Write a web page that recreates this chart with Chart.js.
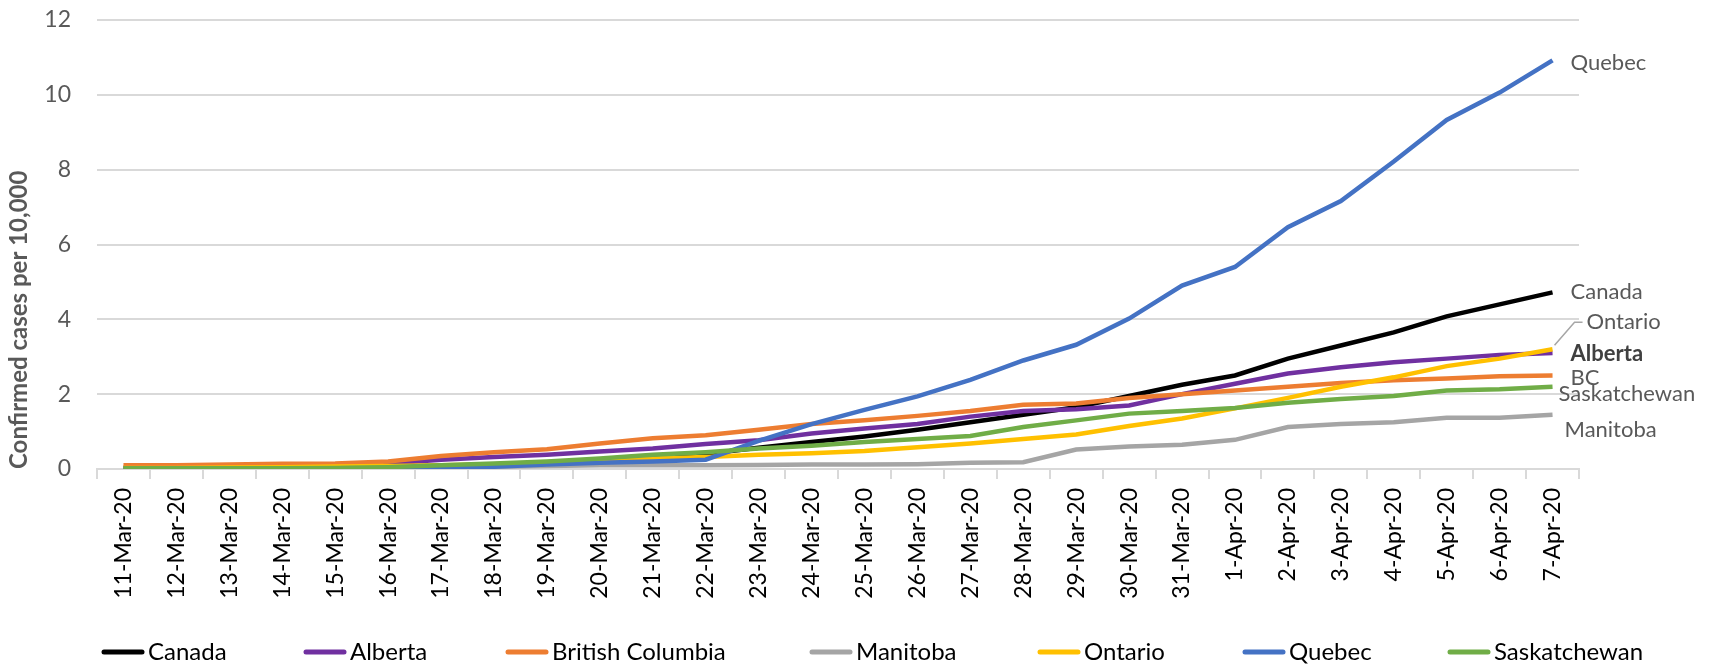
<!DOCTYPE html>
<html>
<head>
<meta charset="utf-8">
<script src="https://cdn.jsdelivr.net/npm/chart.js@4"></script>
<style>
  html, body { margin: 0; padding: 0; background: #fff; }
  #wrap { width: 1723px; height: 664px; }
</style>
</head>
<body>
<div id="wrap"><canvas id="casesChart" width="1723" height="664"></canvas></div>
<script>
const dates = ['11-Mar-20','12-Mar-20','13-Mar-20','14-Mar-20','15-Mar-20','16-Mar-20','17-Mar-20',
  '18-Mar-20','19-Mar-20','20-Mar-20','21-Mar-20','22-Mar-20','23-Mar-20','24-Mar-20','25-Mar-20',
  '26-Mar-20','27-Mar-20','28-Mar-20','29-Mar-20','30-Mar-20','31-Mar-20','1-Apr-20','2-Apr-20',
  '3-Apr-20','4-Apr-20','5-Apr-20','6-Apr-20','7-Apr-20'];

const canada = [0.03,0.03,0.04,0.05,0.06,0.07,0.09,0.12,0.16,0.2,0.3,0.4,0.57,0.72,0.87,1.05,1.25,1.45,1.65,1.95,2.25,2.5,2.95,3.3,3.65,4.08,4.4,4.72];
const alberta = [0.03,0.04,0.06,0.08,0.1,0.15,0.25,0.32,0.38,0.47,0.55,0.67,0.77,0.95,1.08,1.2,1.4,1.55,1.6,1.7,2.0,2.28,2.55,2.72,2.85,2.95,3.05,3.1];
const britishColumbia = [0.1,0.1,0.12,0.14,0.15,0.2,0.35,0.45,0.53,0.68,0.82,0.9,1.05,1.2,1.3,1.42,1.55,1.72,1.75,1.9,2.0,2.1,2.2,2.3,2.37,2.42,2.48,2.5];
const manitoba = [0,0,0,0,0,0.02,0.04,0.06,0.08,0.1,0.1,0.1,0.11,0.12,0.12,0.13,0.17,0.18,0.52,0.6,0.65,0.78,1.12,1.2,1.25,1.37,1.37,1.45];
const ontario = [0.03,0.03,0.04,0.05,0.07,0.08,0.1,0.13,0.16,0.2,0.28,0.32,0.38,0.42,0.48,0.58,0.68,0.8,0.92,1.15,1.35,1.62,1.9,2.2,2.45,2.75,2.95,3.2];
const quebec = [0.01,0.01,0.01,0.01,0.02,0.03,0.04,0.06,0.12,0.17,0.2,0.25,0.75,1.2,1.58,1.94,2.38,2.9,3.32,4.02,4.9,5.4,6.46,7.16,8.22,9.33,10.06,10.92];
const saskatchewan = [0.02,0.02,0.02,0.02,0.03,0.05,0.1,0.15,0.2,0.28,0.38,0.45,0.55,0.62,0.72,0.8,0.88,1.12,1.3,1.48,1.55,1.63,1.77,1.87,1.95,2.1,2.13,2.2];

const yTicks = [0, 2, 4, 6, 8, 10, 12];

const font = 'Lato, "Open Sans", sans-serif';

// label next to the last point of each line
const endLabels = {
  Canada:       { text: 'Canada',       dx: 18, dy: 0 },
  Alberta:      { text: 'Alberta',      dx: 18, dy: 1, bold: true },
  'British Columbia': { text: 'BC',     dx: 18, dy: 2 },
  Manitoba:     { text: 'Manitoba',     dx: 12, dy: 15 },
  Ontario:      { text: 'Ontario',      dx: 34, dy: -27, leader: true },
  Quebec:       { text: 'Quebec',       dx: 18, dy: 2 },
  Saskatchewan: { text: 'Saskatchewan', dx: 6,  dy: 7 }
};

const endLabelPlugin = {
  id: 'endLabels',
  afterDatasetsDraw(chart) {
    const c = chart.ctx;
    c.save();
    c.textBaseline = 'middle';
    c.textAlign = 'left';
    chart.data.datasets.forEach((ds, i) => {
      const cfg = endLabels[ds.label];
      const meta = chart.getDatasetMeta(i);
      const pt = meta.data[meta.data.length - 1];
      const x = pt.x + cfg.dx;
      const y = pt.y + cfg.dy;
      c.font = (cfg.bold ? 'bold ' : '') + '22px ' + font;
      c.fillStyle = cfg.bold ? '#404040' : '#595959';
      c.fillText(cfg.text, x, y);
      if (cfg.leader) {
        c.strokeStyle = '#a6a6a6';
        c.lineWidth = 1.5;
        c.beginPath();
        c.moveTo(pt.x + 2, pt.y - 4);
        c.lineTo(x - 12, y);
        c.lineTo(x - 4, y);
        c.stroke();
      }
    });
    c.restore();
  }
};

// legend laid out like the spreadsheet one, one slot per series
const legendSlots = [102, 304, 506, 810, 1038, 1243, 1448];

const bottomLegend = {
  id: 'bottomLegend',
  afterDraw(chart) {
    const c = chart.ctx;
    const y = 652;
    c.save();
    c.textBaseline = 'middle';
    c.textAlign = 'left';
    c.font = '24px ' + font;
    chart.data.datasets.forEach((ds, i) => {
      const x = legendSlots[i];
      c.strokeStyle = ds.borderColor;
      c.lineWidth = 5;
      c.lineCap = 'round';
      c.beginPath();
      c.moveTo(x + 2, y);
      c.lineTo(x + 40, y);
      c.stroke();
      c.fillStyle = '#000000';
      c.fillText(ds.label, x + 46, y);
    });
    c.restore();
  }
};

function series(label, data, color, order) {
  return {
    label: label,
    data: data,
    borderColor: color,
    backgroundColor: color,
    borderWidth: 4.5,
    pointRadius: 0,
    tension: 0,
    fill: false,
    order: order
  };
}

const ctx = document.getElementById('casesChart').getContext('2d');

const casesChart = new Chart(ctx, {
  type: 'line',
  data: {
    labels: dates,
    datasets: [
      series('Canada', canada, '#000000', 6),
      series('Alberta', alberta, '#7030a0', 5),
      series('British Columbia', britishColumbia, '#ed7d31', 4),
      series('Manitoba', manitoba, '#a5a5a5', 3),
      series('Ontario', ontario, '#ffc000', 2),
      series('Quebec', quebec, '#4472c4', 1),
      series('Saskatchewan', saskatchewan, '#70ad47', 0)
    ]
  },
  options: {
    responsive: false,
    animation: false,
    layout: {
      padding: { top: 20, right: 144, left: 0, bottom: 0 }
    },
    scales: {
      x: {
        offset: true,
        afterFit: (axis) => {
          axis.height = 195;
          axis.paddingLeft = 0;
          axis.paddingRight = 0;
        },
        grid: {
          offset: true,
          drawOnChartArea: false,
          drawTicks: true,
          tickLength: 10,
          color: '#d9d9d9',
          lineWidth: 2
        },
        border: { color: '#d9d9d9', width: 2 },
        ticks: {
          autoSkip: false,
          maxRotation: 90,
          minRotation: 90,
          color: '#000000',
          padding: 9,
          font: { family: font, size: 23 }
        }
      },
      y: {
        min: 0,
        max: 12,
        afterFit: (axis) => {
          axis.width = 97;
          axis.paddingTop = 0;
          axis.paddingBottom = 0;
        },
        afterBuildTicks: (axis) => {
          axis.ticks = yTicks.map(v => ({ value: v }));
        },
        grid: {
          color: '#d9d9d9',
          lineWidth: 2,
          drawTicks: false
        },
        border: { display: false },
        ticks: {
          color: '#595959',
          padding: 26,
          font: { family: font, size: 23 }
        },
        title: {
          display: true,
          text: 'Confirmed cases per 10,000',
          align: 'start',
          color: '#595959',
          padding: { top: 5, bottom: 0 },
          font: { family: font, size: 24, weight: 'bold' }
        }
      }
    },
    plugins: {
      legend: { display: false },
      tooltip: { enabled: false }
    }
  },
  plugins: [endLabelPlugin, bottomLegend]
});
</script>
</body>
</html>
